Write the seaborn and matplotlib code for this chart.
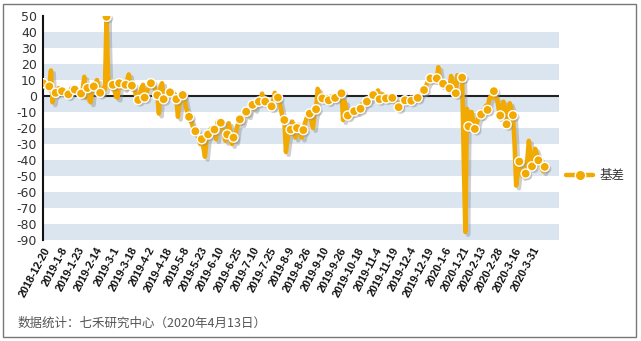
import numpy as np
import pandas as pd
import matplotlib
matplotlib.use("Agg")
import matplotlib.pyplot as plt
import matplotlib.patheffects as pe
from matplotlib.lines import Line2D
from matplotlib.patches import Rectangle
import seaborn as sns

# tick labels, one every 11 trading days
date_labels = [
    "2018-12-20", "2019-1-8", "2019-1-23", "2019-2-14", "2019-3-1", "2019-3-18",
    "2019-4-2", "2019-4-18", "2019-5-8", "2019-5-23", "2019-6-10", "2019-6-25",
    "2019-7-10", "2019-7-25", "2019-8-9", "2019-8-26", "2019-9-10", "2019-9-26",
    "2019-10-18", "2019-11-4", "2019-11-19", "2019-12-4", "2019-12-19", "2020-1-6",
    "2020-1-21", "2020-2-13", "2020-2-28", "2020-3-16", "2020-3-31",
]

# daily basis values
basis = [
    8, 9, 7, 6,   6, 16, -4, 1,   2, 4, 5, 3,   3, 4, 2, 2,
    1, 3, 5, 4,   4, 3, 2, 1,   1.5, 4, 12, -1,   5, 3, -4, 4,
    6, 8, 10, 5,   2, 3, 5, 4,   49.5, 12, 6, 5,   7, 4, -0.5, -1,
    8, 9, 6, 5,   7, 10, 13.5, 8,   6.5, 5, 3, -2,   -2.5, 1, 5, 7,
    -1, 2, 4, 6,   8, 7, 6, 3,   0.5, -11, 6, 8,   -2, 0, 1, 3,
    2.3, 0, -1, 1,   -2, -13, -3, 1,   0.6, -2, -7, -10,   -13, -15, -18, -21,
    -22, -24, -26, -30,   -27, -32, -38, -28,   -24, -22, -20, -23,   -21, -27, -16, -19,
    -16.7, -20, -25, -28,   -24, -17, -22, -30,   -26, -28, -20, -17,   -14.6, -17, -13, -11,
    -9.8, -12, -8, -7,   -5.5, -8, -5, -3,   -3.5, -2, 1.5, -2,   -3.5, -5, -4, -6,
    -6.5, -3, 2, 0,   -1, -4, -9, -14,   -15, -35, -27, -22,   -21, -16, -22, -26,
    -20, -18, -23, -26,   -21.3, -17, -14, -12,   -11, -15, -20, -12,   -8.3, 4.5, 2, -1,
    -1.5, 0, -3, -2,   -2.7, -1, 0, -2,   -1.2, 0.5, -1, 0,   1.7, -15, -3.5, -8,
    -12.2, -10, -11, -9,   -9.5, -8, -10, -7,   -8, -5, -6, -4,   -3.5, -1, -2, 1,
    0.6, -1, 2, 3.5,   -2, -0.5, 1, -1,   -1.5, 0, -2, -1,   -1.2, -2, -4, -5,
    -7, -5, -3, -2,   -2.7, -1.5, -3, -2,   -3, -2, -0.5, -1,   -1.2, 0, 1.5, 2,
    3.75, 6, 8, 10,   11, 12, 10, 11,   11, 18, 12, 9,   7.7, 9, 6, 5,
    4.8, 12.5, 8, 4,   1.7, 13, 10, 12,   11.5, -40, -85, -8,   -19, -12, -10, -16,
    -20.6, -18, -14, -13,   -11.5, -9, -10, -6,   -8.7, -2, 0, -1,   3, -1, -2, -8,
    -12.2, -7, -3.5, -9,   -17.7, -9, -4.5, -8,   -12, -30, -56, -48,   -41, -45, -50, -46,
    -48.5, -40, -28, -37,   -44, -38, -33, -36,   -40.2, -42, -45, -47,   -44.3,
]

series_name = "基差"
footer = "数据统计：七禾研究中心（2020年4月13日）"

orange = "#F2A900"
band = "#dae5f0"

sns.set_theme(style="white")
plt.rcParams["font.family"] = ["DejaVu Sans", "Noto Sans CJK SC"]

W, H = 641, 341
fig = plt.figure(figsize=(W / 100, H / 100), dpi=100)
fig.patch.set_facecolor("white")
ax = fig.add_axes([42.5 / W, 1 - 240 / H, (559 - 42.5) / W, (240 - 16) / H])
ax.set_facecolor("white")

df = pd.DataFrame({"idx": np.arange(len(basis)), "basis": basis})

# alternating horizontal bands
for lo in range(-90, 50, 20):
    ax.axhspan(lo, lo + 10, color=band, lw=0, zorder=0)
ax.axhline(0, color="#222222", lw=1.5, zorder=1)

shadow = [pe.SimpleLineShadow(offset=(2, -2), shadow_color="#888888", alpha=0.4), pe.Normal()]
sns.lineplot(data=df, x="idx", y="basis", color=orange, lw=3.2, ax=ax,
             errorbar=None, zorder=3, path_effects=shadow)
sns.scatterplot(data=df.iloc[::4], x="idx", y="basis", color=orange, s=44,
                edgecolor="white", linewidth=1.0, ax=ax, zorder=4, legend=False,
                path_effects=[pe.SimplePatchShadow(offset=(1.5, -1.5), shadow_rgbFace="#888888", alpha=0.4), pe.Normal()])

ax.set_xlim(-0.3, 325)
ax.set_ylim(-90, 50)
ax.set_yticks(np.arange(-90, 51, 10))
ax.set_yticklabels([str(v) for v in range(-90, 51, 10)], fontsize=9, color="#333333")
ax.set_xticks(np.arange(0, len(basis), 11))
ax.set_xticklabels(date_labels, rotation=62, ha="right", rotation_mode="anchor",
                   fontsize=7.8, color="#111111", family="Liberation Sans", fontweight="bold")
ax.tick_params(axis="both", length=0, pad=4)
ax.set_xlabel("")
ax.set_ylabel("")
for side in ["top", "right", "bottom"]:
    ax.spines[side].set_visible(False)
ax.spines["left"].set_color("#111111")
ax.spines["left"].set_linewidth(1.5)

handle = Line2D([], [], color=orange, lw=3.2, marker="o", markersize=7.5,
                markerfacecolor=orange, markeredgecolor="white", markeredgewidth=1.0)
fig.legend(handles=[handle], labels=[series_name], loc="center left",
           bbox_to_anchor=(562 / W, 1 - 176 / H), frameon=False, handlelength=2.2,
           handletextpad=0.5, borderaxespad=0, borderpad=0.3,
           prop={"family": ["Noto Sans CJK SC"], "size": 9}, labelcolor="#333333")

fig.text(18 / W, 1 - 323 / H, footer, fontsize=9, color="#555555",
         family=["Noto Sans CJK SC", "DejaVu Sans"], va="center", ha="left")

fig.add_artist(Rectangle((3 / W, 4 / H), 633 / W, 333 / H, transform=fig.transFigure,
                         fill=False, ec="#777777", lw=1))

fig.savefig("out.png", dpi=100)
